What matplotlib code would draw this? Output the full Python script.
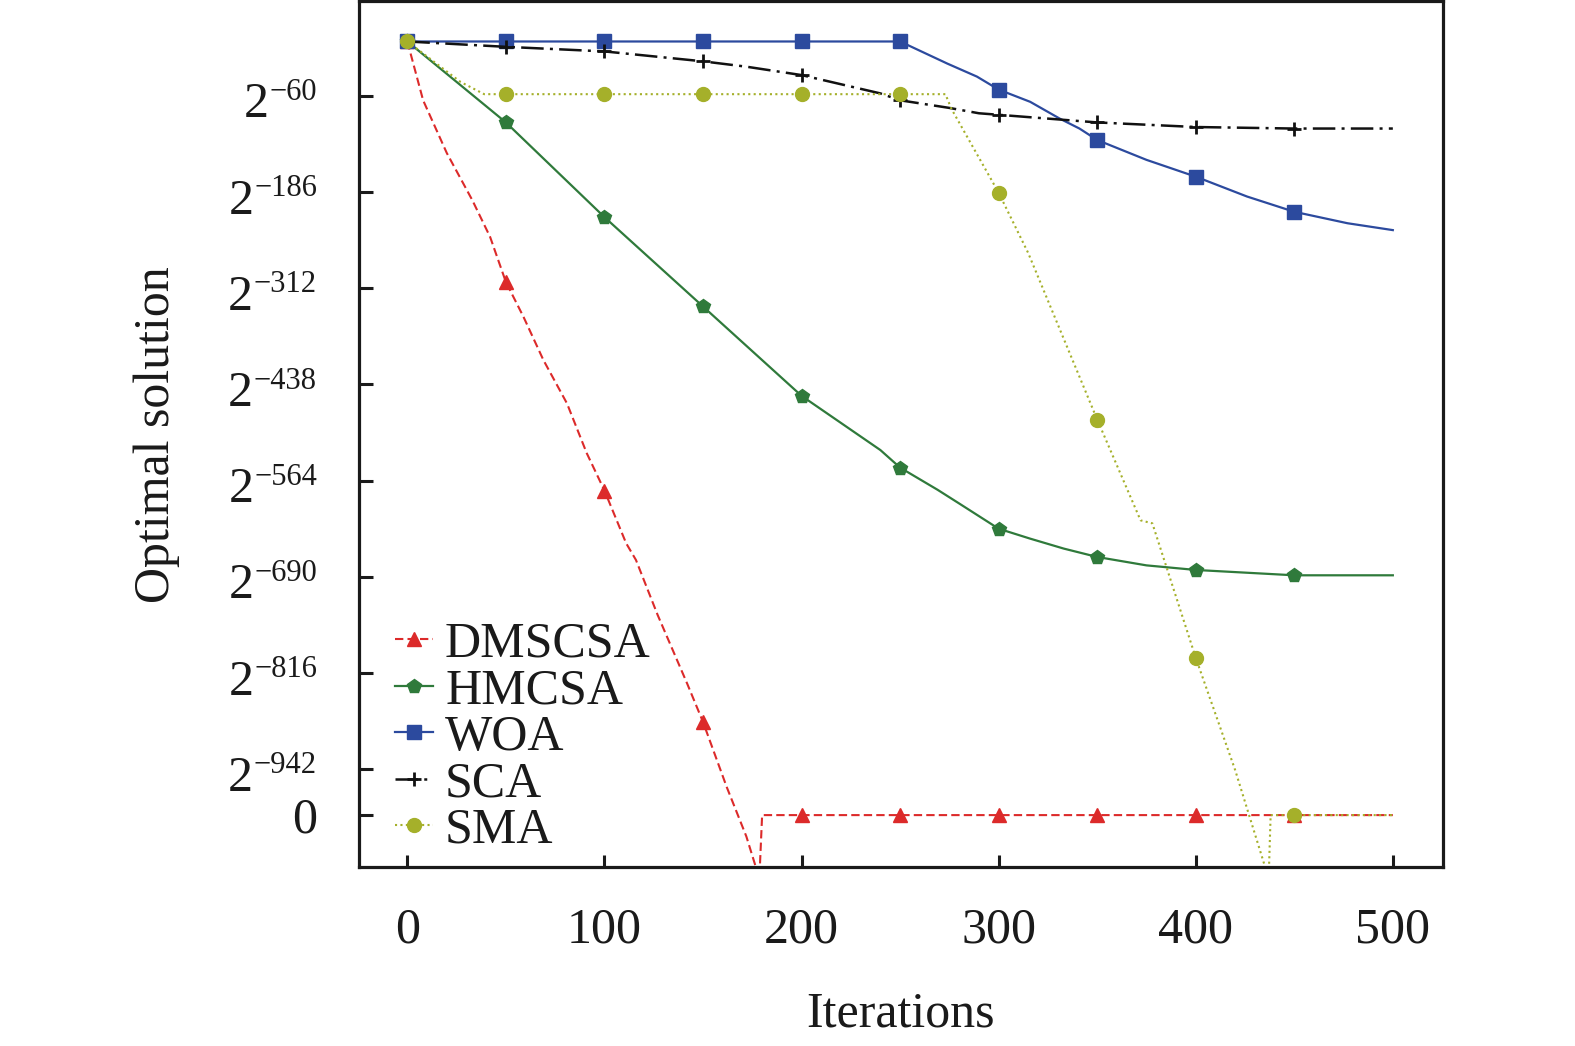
import matplotlib
matplotlib.use('Agg')
import matplotlib.pyplot as plt

plt.rcParams['font.family'] = ['Liberation Serif', 'DejaVu Serif']

# ---------------- data (log2 of optimal solution; "0" drawn at zero_level) ----------
zero_level = -1002
below = -1085

dmscsa_x = [0, 8, 20, 33, 42, 50, 59, 69, 81, 91, 100, 111, 116, 127, 142, 150, 162, 172,
            178.6, 180, 200, 250, 300, 350, 400, 450, 500]
dmscsa_y = [11, -66, -135, -197, -245, -304, -350, -406, -463, -528, -577, -646, -668, -740,
            -830, -880, -965, -1030, below, zero_level, zero_level, zero_level, zero_level,
            zero_level, zero_level, zero_level, zero_level]

hmcsa_x = [0, 50, 100, 150, 200, 240, 250, 269, 280, 300, 316, 333, 350, 375, 400, 450, 500]
hmcsa_y = [11, -95, -219, -336, -453, -524, -547, -576, -594, -627, -640, -653, -664, -675,
           -681, -688, -688]

woa_x = [0, 50, 100, 150, 200, 250, 274, 289, 300, 316, 331, 341, 350, 375, 400, 426, 450,
         477, 500]
woa_y = [11, 11, 11, 11, 11, 11, -18, -35, -52, -68, -90, -103, -118, -144, -166, -192, -212,
         -227, -236]

sca_x = [0, 50, 100, 150, 172, 200, 240, 250, 275, 290, 300, 350, 400, 450, 500]
sca_y = [11, 4, -2, -15, -22, -33, -57, -66, -76, -83, -85, -95, -101, -103, -103]

sma_x = [0, 27, 39, 50, 100, 150, 200, 250, 273, 276, 300, 315, 350, 372, 378, 400, 420,
         437, 438, 450, 500]
sma_y = [11, -42, -58, -58, -58, -58, -58, -58, -58, -77, -187, -266, -484, -616, -620, -796,
         -943, below, zero_level, zero_level, zero_level]

marker_iters = [0, 50, 100, 150, 200, 250, 300, 350, 400, 450]

x_ticks = [0, 100, 200, 300, 400, 500]
y_tick_exps = [-60, -186, -312, -438, -564, -690, -816, -942]
y_tick_base = '2'
y_zero_label = '0'

series = [
    ('DMSCSA', dmscsa_x, dmscsa_y, dict(color='#dc2a2a', ls=(0, (4, 2)), lw=1.5, marker='^', ms=10)),
    ('HMCSA', hmcsa_x, hmcsa_y, dict(color='#2f7a3b', ls='-', lw=1.6, marker='p', ms=10)),
    ('WOA', woa_x, woa_y, dict(color='#2c4a9e', ls='-', lw=1.6, marker='s', ms=10)),
    ('SCA', sca_x, sca_y, dict(color='#111111', ls=(0, (9, 2.5, 1.2, 2.5)), lw=1.8, marker='+', ms=10, mew=2)),
    ('SMA', sma_x, sma_y, dict(color='#a5b02a', ls=(0, (1, 1.6)), lw=1.5, marker='o', ms=10)),
]

TXT = '#1a1a1a'
fig = plt.figure(figsize=(15.75, 10.46), dpi=100)
ax = fig.add_axes([0.2281, 0.1711, 0.6879, 0.8275])

for name, xs, ys, st in series:
    idx = [i for i, v in enumerate(xs) if v in marker_iters]
    ax.plot(xs, ys, label=name, markevery=idx, **st)

ax.set_xlim(-24.4, 525.3)
ax.set_ylim(-1070, 63.4)
ax.set_xticks(x_ticks)
ax.set_xticklabels([str(v) for v in x_ticks])
ax.set_yticks(y_tick_exps + [zero_level])
ax.set_yticklabels([''] * len(y_tick_exps) + [y_zero_label])

for s in ax.spines.values():
    s.set_linewidth(2.3)
    s.set_color(TXT)

ax.tick_params(axis='x', direction='in', length=8.6, width=2.2, labelsize=36, pad=29,
               colors=TXT)
ax.tick_params(axis='y', direction='in', length=10, width=2.2, labelsize=36, pad=30,
               colors=TXT)

# power-of-two tick labels: base "2" with a smaller raised exponent
for e in y_tick_exps:
    exp_txt = ax.annotate('\u2212%d' % abs(e), xy=(0, e), xycoords=('axes fraction', 'data'),
                          xytext=(-30.5, -3), textcoords='offset points',
                          ha='right', va='baseline', fontsize=22, color=TXT,
                          annotation_clip=False)
    ax.annotate(y_tick_base, xy=(0, 0), xycoords=exp_txt,
                xytext=(-0.5, -7.5), textcoords='offset points',
                ha='right', va='baseline', fontsize=36, color=TXT, annotation_clip=False)

ax.set_xlabel('Iterations', fontsize=36, labelpad=27, color=TXT)
ax.set_ylabel('Optimal solution', fontsize=36, color=TXT, va='center')
ax.yaxis.set_label_coords(-0.187, 0.5)

leg = ax.legend(loc='upper left', bbox_to_anchor=(0.033, 0.284), frameon=False,
                fontsize=36, handlelength=0.76, handletextpad=0.24, labelspacing=0.0,
                borderpad=0, borderaxespad=0, numpoints=1)
for t in leg.get_texts():
    t.set_color(TXT)

fig.savefig('out.png', dpi=100)
